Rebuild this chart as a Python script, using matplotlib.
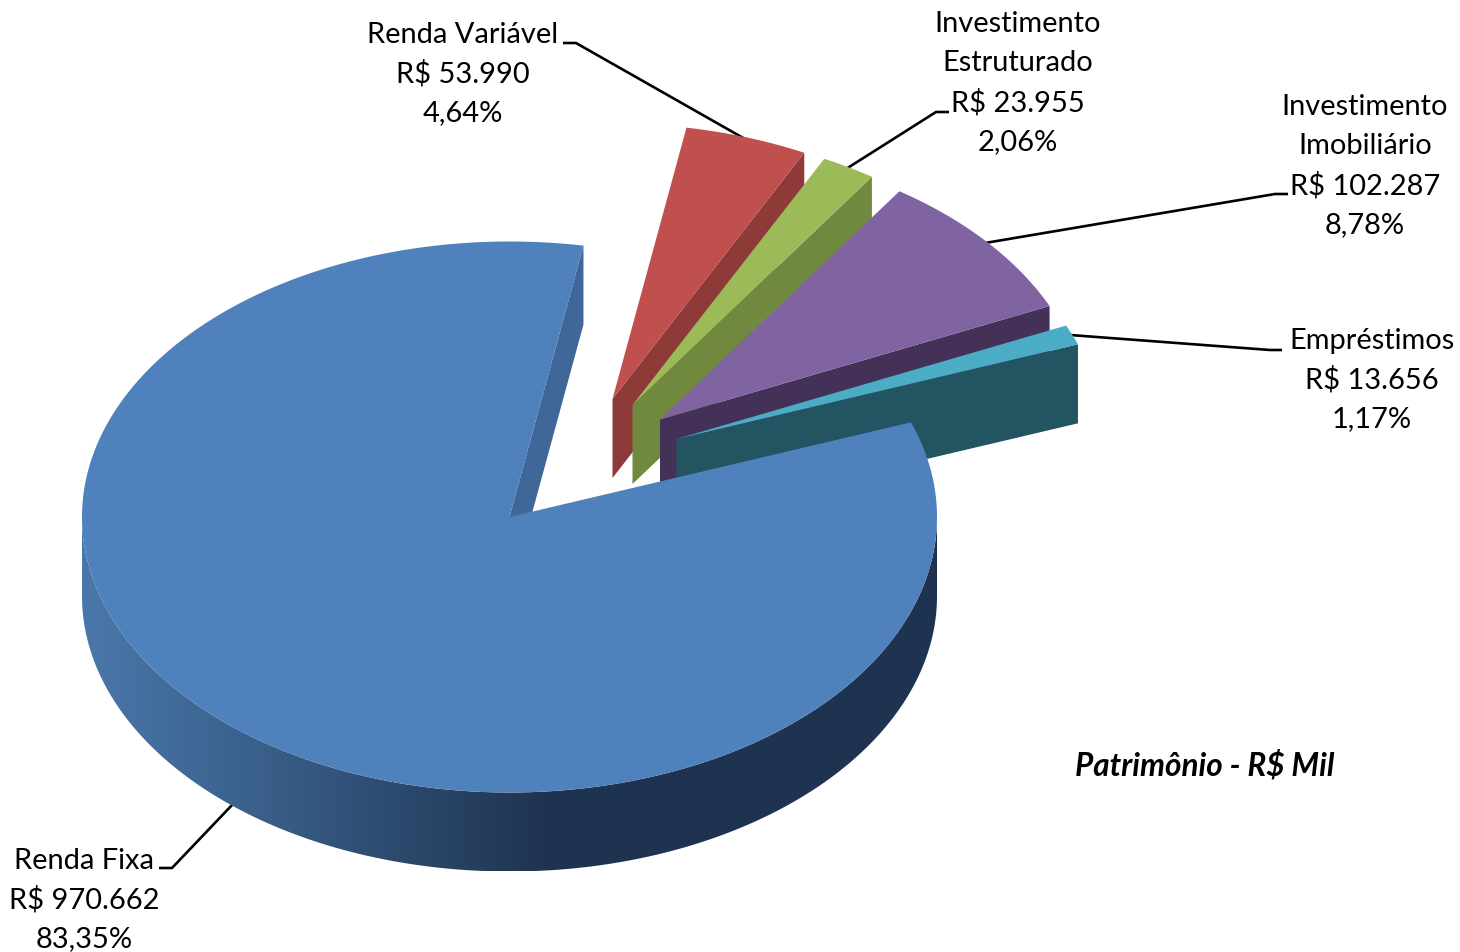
import numpy as np
import matplotlib
matplotlib.use("Agg")
import matplotlib.pyplot as plt
from matplotlib.colors import LinearSegmentedColormap
from matplotlib.patches import Polygon

# -------------------------------------------------
# Dados
# -------------------------------------------------
nomes = ["Renda Fixa", "Renda Variável", "Investimento\nEstruturado",
         "Investimento\nImobiliário", "Empréstimos"]
valores = [970662, 53990, 23955, 102287, 13656]
percentuais = ["83,35%", "4,64%", "2,06%", "8,78%", "1,17%"]
titulo = "Patrimônio - R$ Mil"

# -------------------------------------------------
# Aparência
# -------------------------------------------------
cor_topo = ["#4f81bd", "#c0504d", "#9bbb59", "#8064a2", "#4bacc6"]
cor_lado = ["#3f6899", "#8e3a38", "#71893f", "#433157", "#235461"]
# deslocamento de cada fatia em relação ao centro da pizza (pixels)
explosao = [(0, 0), (103, -118), (123, -112), (150.5, -97.5), (167, -78)]

# posição dos rótulos: centro x, y da primeira linha
pos_rotulo = [(84, 861), (463, 35), (1018, 24), (1365, 107), (1372, 341)]
# linhas de chamada
chamadas = [
    [(159, 869), (172, 869), (233, 805)],
    [(563, 44), (576, 44), (745, 140)],
    [(949, 113), (936, 113), (846, 170)],
    [(1288, 195), (1275, 195), (985, 244)],
    [(1282, 351), (1270, 351), (1070, 336)],
]

CX, CY = 509.5, 518
RX, RY = 427.5, 275.5
ALTURA = 79
INICIO = 69.9  # graus, sentido horário a partir do norte
ENTRELINHA = 39.2

plt.rcParams["font.family"] = ["Lato", "DejaVu Sans"]


def arco(a0, a1, dx=0, dy=0, n=200):
    """Pontos da borda da elipse entre dois ângulos (graus, horário desde o norte)."""
    t = np.radians(np.linspace(a0, a1, n))
    return np.column_stack([CX + dx + RX * np.sin(t), CY + dy - RY * np.cos(t)])


def desenha_fatia(ax, a0, a1, dx, dy, topo, lado, zorder):
    """Face lateral visível (corte final) e topo de uma fatia."""
    apice = np.array([CX + dx, CY + dy])
    fim = arco(a1, a1, dx, dy, n=1)[0]
    desce = np.array([0, ALTURA])
    ax.add_patch(Polygon([apice, fim, fim + desce, apice + desce],
                         closed=True, fc=lado, ec="none", zorder=zorder))
    pts = np.vstack([apice, arco(a0, a1, dx, dy)])
    ax.add_patch(Polygon(pts, closed=True, fc=topo, ec="none", zorder=zorder + 0.5))


fig = plt.figure(figsize=(14.6, 9.53), dpi=100)
ax = fig.add_axes([0, 0, 1, 1])

# ângulos de cada fatia a partir dos valores
angulos = np.array(valores) / sum(valores) * 360
fim_ang = INICIO + np.cumsum(angulos)
ini_ang = fim_ang - angulos

# fatias destacadas, de trás para a frente
for i in range(1, len(valores)):
    desenha_fatia(ax, ini_ang[i] % 360, (ini_ang[i] % 360) + angulos[i],
                  explosao[i][0], explosao[i][1], cor_topo[i], cor_lado[i], 2 + i)

# Renda Fixa: corte de trás, lateral com degradê e topo
a0, a1 = ini_ang[0], fim_ang[0]
ponta = arco(a1, a1, n=1)[0]
ax.add_patch(Polygon([(CX, CY), ponta, ponta + [0, ALTURA], (CX, CY + ALTURA)],
                     closed=True, fc=cor_lado[0], ec="none", zorder=8))

frente = arco(90, 270, n=400)
lateral = np.vstack([frente, frente[::-1] + [0, ALTURA]])
grad = LinearSegmentedColormap.from_list(
    "lateral", [(0, "#4a77ab"), (0.17, "#3c6491"), (0.54, "#1f3450"), (1, "#1e3350")])
img = ax.imshow(np.linspace(0, 1, 512)[None, :], cmap=grad, aspect="auto",
                extent=(CX - RX, CX + RX, CY + RY + ALTURA, CY), zorder=9)
img.set_clip_path(Polygon(lateral, closed=True, transform=ax.transData))
ax.add_patch(Polygon(np.vstack([(CX, CY), arco(a0, a1, n=800)]), closed=True,
                     fc=cor_topo[0], ec="none", zorder=10))

# linhas de chamada
for linha in chamadas:
    xs, ys = zip(*linha)
    ax.plot(xs, ys, color="black", lw=1.9, zorder=1, solid_capstyle="butt",
            solid_joinstyle="round")

# rótulos
for i, nome in enumerate(nomes):
    valor = f"R$ {valores[i]:,}".replace(",", ".")
    linhas = nome.split("\n") + [valor, percentuais[i]]
    x, y = pos_rotulo[i]
    for j, txt in enumerate(linhas):
        ax.text(x, y + j * ENTRELINHA, txt, ha="center", va="center",
                fontsize=20.9, color="black", zorder=20)

ax.text(1205, 765, titulo, ha="center", va="center", fontsize=22.7,
        fontweight="bold", fontstyle="italic", color="black", zorder=20)

ax.set_xlim(0, 1460)
ax.set_ylim(953, 0)
ax.axis("off")
fig.savefig("out.png", dpi=100, facecolor="white")
